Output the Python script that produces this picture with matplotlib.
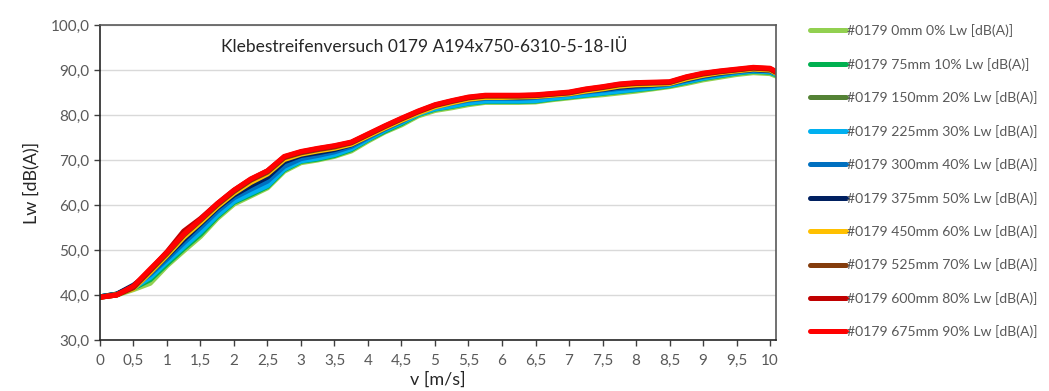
import numpy as np
import matplotlib
matplotlib.use("Agg")
from matplotlib import pyplot as plt

plt.rcParams['font.family'] = ['Lato', 'DejaVu Sans']

"""data"""
v = [0, 0.25, 0.5, 0.75, 1.0, 1.25, 1.5, 1.75, 2.0, 2.25, 2.5, 2.75, 3.0, 3.25, 3.5, 3.75,
     4.0, 4.25, 4.5, 4.75, 5.0, 5.25, 5.5, 5.75, 6.0, 6.25, 6.5, 6.75, 7.0, 7.25, 7.5, 7.75,
     8.0, 8.25, 8.5, 8.75, 9.0, 9.25, 9.5, 9.75, 10.0, 10.1]

lw_0mm = [39.5, 40.0, 41.2, 42.6, 46.5, 49.8, 53.0, 57.0, 60.2, 62.0, 63.8, 67.5, 69.4, 70.0, 70.8, 72.0,
          74.2, 76.2, 77.8, 79.8, 81.0, 81.6, 82.3, 82.8, 82.8, 82.8, 82.9, 83.4, 83.8, 84.2, 84.5, 84.9,
          85.3, 85.8, 86.3, 87.0, 87.8, 88.4, 89.0, 89.4, 89.2, 88.6]
lw_75mm = [39.6, 40.1, 41.5, 43.4, 46.9, 50.3, 53.5, 57.4, 60.6, 62.3, 64.1, 67.8, 69.7, 70.2, 71.0, 72.3,
           74.5, 76.4, 78.1, 80.1, 81.3, 81.9, 82.6, 83.0, 83.0, 83.0, 83.1, 83.6, 84.0, 84.4, 84.8, 85.2,
           85.6, 86.0, 86.5, 87.3, 88.1, 88.7, 89.3, 89.7, 89.5, 88.9]
lw_150mm = [39.6, 40.2, 41.8, 44.3, 47.6, 51.2, 54.6, 58.4, 61.5, 63.4, 65.2, 68.8, 70.4, 71.0, 71.7, 72.9,
            75.0, 76.9, 78.6, 80.4, 81.7, 82.5, 83.2, 83.6, 83.6, 83.6, 83.8, 84.2, 84.5, 85.0, 85.4, 85.8,
            86.1, 86.4, 86.8, 87.6, 88.4, 89.0, 89.5, 89.9, 89.7, 89.1]
lw_225mm = [39.6, 40.1, 41.6, 43.9, 47.4, 50.7, 54.0, 57.7, 60.8, 62.6, 64.3, 68.0, 69.8, 70.4, 71.2, 72.5,
            74.6, 76.6, 78.3, 80.2, 81.4, 82.0, 82.7, 83.1, 83.1, 83.1, 83.2, 83.7, 84.1, 84.5, 84.9, 85.3,
            85.7, 86.1, 86.6, 87.4, 88.2, 88.8, 89.4, 89.8, 89.6, 89.0]
lw_300mm = [39.6, 40.2, 41.9, 44.6, 48.0, 51.6, 55.0, 58.6, 61.6, 63.5, 65.3, 68.6, 70.3, 71.0, 71.8, 73.0,
            75.0, 76.9, 78.6, 80.5, 81.8, 82.6, 83.3, 83.7, 83.7, 83.7, 83.9, 84.3, 84.6, 85.1, 85.5, 85.9,
            86.2, 86.5, 86.9, 87.7, 88.5, 89.1, 89.6, 90.0, 89.8, 89.2]
lw_375mm = [39.6, 40.2, 42.2, 45.0, 48.6, 52.3, 55.8, 59.3, 62.2, 64.3, 66.2, 69.6, 71.0, 71.6, 72.3, 73.4,
            75.3, 77.1, 78.8, 80.6, 82.0, 82.8, 83.5, 83.9, 83.9, 83.9, 84.1, 84.5, 84.8, 85.3, 85.7, 86.2,
            86.5, 86.7, 87.0, 87.9, 88.7, 89.3, 89.8, 90.1, 89.9, 89.3]
lw_450mm = [39.5, 40.1, 41.4, 45.0, 48.8, 52.8, 56.1, 59.6, 62.6, 65.0, 66.9, 70.1, 71.3, 72.0, 72.6, 73.5,
            75.3, 77.1, 78.8, 80.4, 81.8, 82.7, 83.5, 83.9, 83.9, 84.0, 84.1, 84.4, 84.7, 85.3, 85.8, 86.4,
            86.7, 86.8, 87.0, 88.0, 88.8, 89.4, 89.8, 90.2, 90.0, 89.2]
lw_525mm = [39.5, 40.0, 41.6, 45.4, 49.2, 53.3, 56.6, 60.0, 63.0, 65.5, 67.3, 70.5, 71.6, 72.3, 72.9, 73.8,
            75.6, 77.4, 79.1, 80.7, 82.1, 83.0, 83.8, 84.2, 84.2, 84.2, 84.3, 84.6, 84.9, 85.6, 86.1, 86.7,
            87.0, 87.1, 87.2, 88.3, 89.1, 89.6, 90.0, 90.4, 90.2, 89.4]
lw_600mm = [39.5, 40.0, 41.9, 45.6, 49.6, 54.2, 57.0, 60.3, 63.3, 65.7, 67.6, 70.7, 71.8, 72.5, 73.1, 73.9,
            75.7, 77.5, 79.2, 80.8, 82.2, 83.1, 83.9, 84.3, 84.3, 84.3, 84.4, 84.7, 85.0, 85.7, 86.2, 86.8,
            87.1, 87.2, 87.3, 88.4, 89.2, 89.7, 90.1, 90.5, 90.3, 89.5]
lw_675mm = [39.5, 40.0, 42.0, 45.8, 49.5, 53.5, 56.8, 60.3, 63.3, 65.8, 67.6, 70.8, 71.9, 72.6, 73.2, 74.0,
            75.8, 77.6, 79.3, 80.9, 82.3, 83.2, 84.0, 84.4, 84.4, 84.4, 84.5, 84.8, 85.1, 85.8, 86.3, 86.9,
            87.2, 87.3, 87.4, 88.5, 89.3, 89.8, 90.2, 90.6, 90.4, 89.6]

labels = ['#0179 0mm 0% Lw [dB(A)]', '#0179 75mm 10% Lw [dB(A)]', '#0179 150mm 20% Lw [dB(A)]',
          '#0179 225mm 30% Lw [dB(A)]', '#0179 300mm 40% Lw [dB(A)]', '#0179 375mm 50% Lw [dB(A)]',
          '#0179 450mm 60% Lw [dB(A)]', '#0179 525mm 70% Lw [dB(A)]', '#0179 600mm 80% Lw [dB(A)]',
          '#0179 675mm 90% Lw [dB(A)]']
series = [lw_0mm, lw_75mm, lw_150mm, lw_225mm, lw_300mm, lw_375mm, lw_450mm, lw_525mm, lw_600mm, lw_675mm]
colors = ['#92D050', '#00B050', '#548235', '#00B0F0', '#0070C0', '#002060',
          '#FFC000', '#843C0C', '#C00000', '#FF0000']

xticks = np.arange(0, 10.01, 0.5)
yticks = np.arange(30, 100.1, 10)

"""plot"""
fig = plt.figure(figsize=(10.49, 3.91), dpi=100)
ax = fig.add_axes([0.0953, 0.1304, 0.6445, 0.8056])

lines = []
for y, c, lab in zip(series, colors, labels):
  l, = ax.plot(v, y, color=c, lw=3.6, solid_capstyle='round', solid_joinstyle='round', label=lab)
  lines.append(l)

ax.set_xlim(0, 10.09)
ax.set_ylim(30, 100)
ax.set_xticks(xticks)
ax.set_xticklabels([('%g' % t).replace('.', ',') for t in xticks])
ax.set_yticks(yticks)
ax.set_yticklabels([('%.1f' % t).replace('.', ',') for t in yticks])
ax.tick_params(axis='both', colors='#404040', labelcolor='#595959', labelsize=11, length=4, width=1)
ax.tick_params(axis='x', pad=6)
ax.grid(True, axis='y', color='#D9D9D9', lw=1)
ax.set_axisbelow(True)
for s in ['left', 'bottom']:
  ax.spines[s].set_color('#262626')
  ax.spines[s].set_linewidth(1.2)
for s in ['top', 'right']:
  ax.spines[s].set_color('#595959')
  ax.spines[s].set_linewidth(1.2)

ax.text(0.48, 0.93, 'Klebestreifenversuch 0179 A194x750-6310-5-18-IÜ', transform=ax.transAxes,
        ha='center', va='center', fontsize=12.5, color='#262626')
ax.set_xlabel('v [m/s]', fontsize=13, color='#262626', labelpad=3)
ax.set_ylabel('Lw [dB(A)]', fontsize=13, color='#262626', labelpad=8)

fig.legend(handles=lines, loc='upper left', bbox_to_anchor=(0.760, 0.97), frameon=False,
           fontsize=10.1, handlelength=2.6, handletextpad=0.05, labelspacing=1.46, labelcolor='#595959')

fig.savefig('out.png', dpi=100)
